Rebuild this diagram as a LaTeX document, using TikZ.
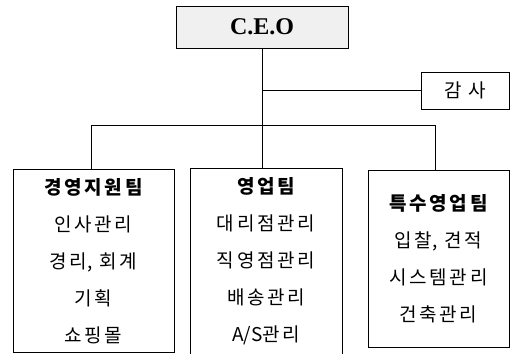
\documentclass[tikz,border=0pt]{standalone}
\usepackage{fontspec}
\setmainfont{Liberation Serif}
\newfontfamily\kr[LetterSpace=14]{Noto Sans CJK KR}
\newcommand\tight[1]{{\addfontfeature{LetterSpace=0}#1}}
\begin{document}
\begin{tikzpicture}[x=1pt,y=-1pt,
    box/.style={draw,line width=0.9pt,inner sep=0pt,align=center,
      font=\kr\fontsize{19pt}{37pt}\selectfont},
    link/.style={line width=0.8pt}]
  \useasboundingbox (0,0) rectangle (513,353);
  % top level
  \node[box,fill=gray!12,minimum width=172pt,minimum height=42pt,
    font=\bfseries\fontsize{24pt}{26pt}\selectfont] (ceo) at (262,27) {C.E.O};
  \node[box,minimum width=88pt,minimum height=37pt] (audit) at (465,90.5) {감 사};
  % teams
  \node[box,minimum width=161pt,minimum height=183pt] (admin) at (93.5,261)
    {\bfseries 경영지원팀\\인사관리\\경리\tight{,} 회계\\기획\\쇼핑몰};
  \node[box,minimum width=152pt,minimum height=186pt] (sales) at (266,261)
    {\bfseries 영업팀\\대리점관리\\직영점관리\\배송관리\\\tight{A/S}관리};
  \node[box,minimum width=141pt,minimum height=177pt] (special) at (438.5,258.5)
    {\bfseries 특수영업팀\\입찰\tight{,} 견적\\시스템관리\\건축관리};
  \coordinate (jl) at (91,125);
  \coordinate (jr) at (435,125);
  \begin{scope}[link]
    \draw (ceo.south) to (ceo.south |- sales.north);
    \draw (ceo.south |- audit.west) to (audit.west);
    \draw (jl) to (jr);
    \draw (jl) to (jl |- admin.north);
    \draw (jr) to (jr |- special.north);
  \end{scope}
\end{tikzpicture}
\end{document}
